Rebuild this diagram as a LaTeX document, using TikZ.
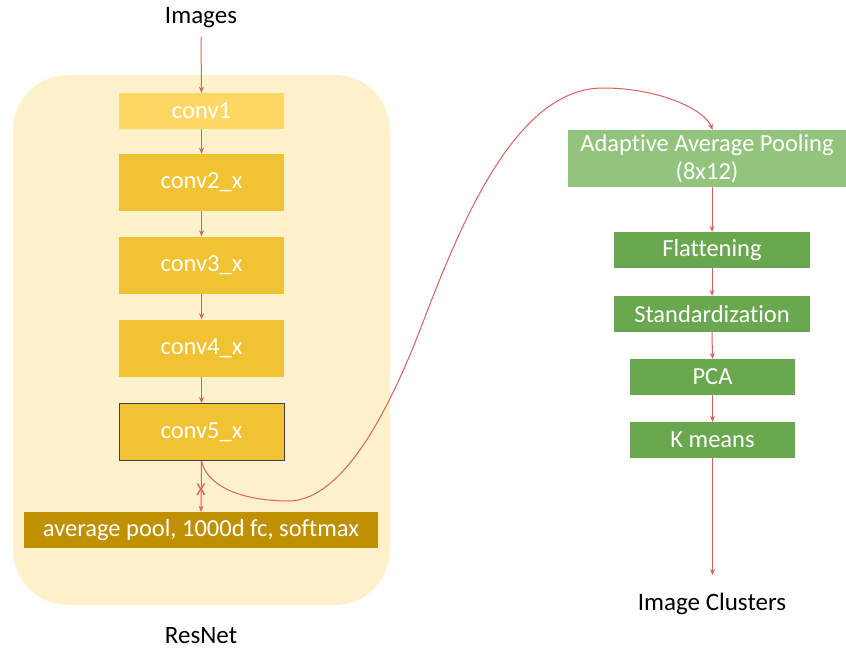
\documentclass[tikz,border=0pt]{standalone}
\usepackage{fontspec}
\setmainfont[Ligatures=NoCommon]{Carlito}
\usetikzlibrary{arrows.meta}
\definecolor{panelbg}{HTML}{FEF1CC}
\definecolor{lightgold}{HTML}{FDD865}
\definecolor{gold}{HTML}{F1C232}
\definecolor{darkgold}{HTML}{BF9000}
\definecolor{lightgreen}{HTML}{93C47D}
\definecolor{green}{HTML}{6AA84F}
\definecolor{arrowred}{HTML}{D9615E}
\tikzset{
  blk/.style={draw=none, minimum width=165pt, text=white, font=\fontsize{24.5}{28}\selectfont, inner sep=0pt},
  lbl/.style={font=\fontsize{25}{28}\selectfont, text=black},
  flow/.style={draw=arrowred, line width=1pt, -{Stealth[length=6pt,width=5pt]}},
}
\begin{document}
\begin{tikzpicture}[x=1pt,y=-1pt]
\useasboundingbox (0,0) rectangle (846,650);
% panel behind the ResNet stages
\fill[panelbg, rounded corners=55pt] (13,75) rectangle (390,605);
\node[lbl] (img) at (201,18) {Images};
\node[lbl] (resnet) at (201,636) {ResNet};
\node[lbl] (clusters) at (712,604) {Image Clusters};
% ResNet stages
\node[blk, fill=lightgold, minimum height=36pt] (c1) at (201.5,111) {conv1};
\node[blk, fill=gold, minimum height=57pt] (c2) at (201.5,182.5) {conv2\_x};
\node[blk, fill=gold, minimum height=57pt] (c3) at (201.5,265) {conv3\_x};
\node[blk, fill=gold, minimum height=57pt] (c4) at (201.5,348) {conv4\_x};
\node[blk, fill=gold, draw=black!75, line width=1pt, minimum height=57pt] (c5) at (201.5,432) {conv5\_x};
\node[blk, fill=darkgold, minimum width=354pt, minimum height=36pt] (fc) at (201,530) {average pool, 1000d fc, softmax};
% clustering pipeline
\node[blk, fill=lightgreen, minimum width=278pt, minimum height=57pt, align=center] (aap) at (707,158.5) {Adaptive Average Pooling\\(8x12)};
\node[blk, fill=green, minimum width=196pt, minimum height=36pt] (flat) at (712,250) {Flattening};
\node[blk, fill=green, minimum width=196pt, minimum height=36pt] (std) at (712,314) {Standardization};
\node[blk, fill=green, minimum height=36pt] (pca) at (712.5,377) {PCA};
\node[blk, fill=green, minimum height=36pt] (km) at (712.5,440) {K means};
% connectors
\draw[flow] (img.south |- 0,37) -- (c1.north);
\draw[flow] (c1) -- (c2);
\draw[flow] (c2) -- (c3);
\draw[flow] (c3) -- (c4);
\draw[flow] (c4) -- (c5);
\draw[flow] (c5.south) -- (fc.north);
\node[text=arrowred, font=\fontsize{18}{18}\selectfont, inner sep=0pt] (cut) at (201,490) {X};
% feature map taken from conv5_x into the clustering pipeline
\draw[flow] (c5.south) .. controls (208,490) and (250,501) .. (288,501)
  .. controls (340,501) and (385,420) .. (420,330)
  .. controls (460,225) and (515,88) .. (603,88)
  .. controls (660,88) and (705,110) .. (aap.north -| km.north);
\draw[flow] (aap.south -| flat.north) -- (flat.north);
\draw[flow] (flat.south) -- (std.north);
\draw[flow] (std.south) -- (pca.north);
\draw[flow] (pca.south) -- (km.north);
\coordinate (end) at (712.5,575);
\draw[flow] (km.south) -- (end);
\end{tikzpicture}
\end{document}
